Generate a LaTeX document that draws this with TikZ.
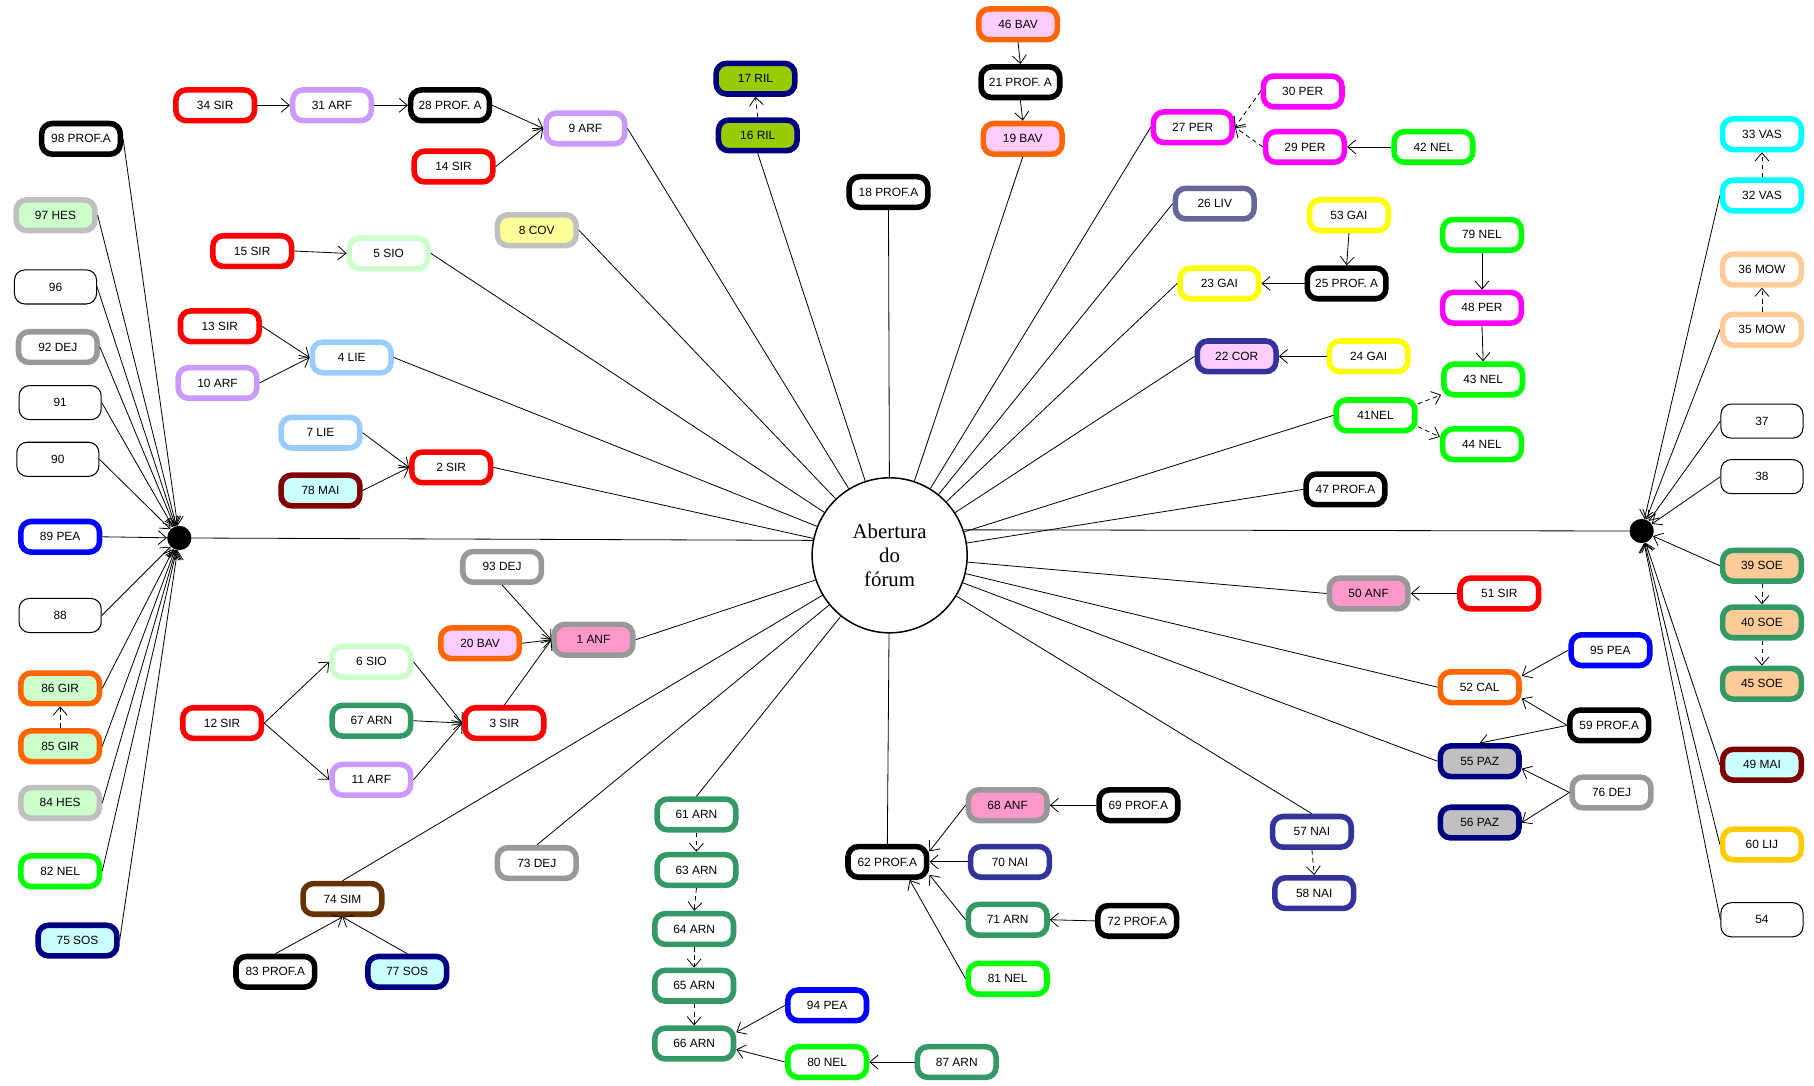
\documentclass[tikz,border=0pt]{standalone}
\usepackage{fontspec}
\setmainfont{Liberation Sans}
\newfontfamily\serifA{Liberation Serif}
\usetikzlibrary{arrows.meta}
\definecolor{cRed}{HTML}{FF0000}
\definecolor{cLav}{HTML}{CC99FF}
\definecolor{cLBlue}{HTML}{99CCFF}
\definecolor{cLGreen}{HTML}{CCFFCC}
\definecolor{cSilver}{HTML}{C0C0C0}
\definecolor{cGray}{HTML}{999999}
\definecolor{cMaroon}{HTML}{800000}
\definecolor{cLCyan}{HTML}{CCFFFF}
\definecolor{cNavy}{HTML}{000080}
\definecolor{cYGreen}{HTML}{99CC00}
\definecolor{cOrange}{HTML}{FF6600}
\definecolor{cPink}{HTML}{FFCCFF}
\definecolor{cMag}{HTML}{FF00FF}
\definecolor{cGreen}{HTML}{00FF00}
\definecolor{cSlate}{HTML}{666699}
\definecolor{cYellow}{HTML}{FFFF00}
\definecolor{cLYellow}{HTML}{FFFF99}
\definecolor{cIndigo}{HTML}{333399}
\definecolor{cRose}{HTML}{FF99CC}
\definecolor{cBlue}{HTML}{0000FF}
\definecolor{cSea}{HTML}{339966}
\definecolor{cBrown}{HTML}{663300}
\definecolor{cCyan}{HTML}{00FFFF}
\definecolor{cPeach}{HTML}{FFCC99}
\definecolor{cGold}{HTML}{FFCC00}
\begin{document}
\begin{tikzpicture}[x=1pt,y=-1pt,
 bx/.style={draw, rounded corners=9pt, line width=4.8pt, minimum width=68pt, minimum height=26.5pt, inner sep=0pt, fill=white, font=\fontsize{10.3}{12}\selectfont},
 pl/.style={draw, rounded corners=9pt, line width=0.9pt, minimum width=71pt, minimum height=29.5pt, inner sep=0pt, fill=white, font=\fontsize{10.3}{12}\selectfont},
 kSIR/.style={bx, draw=cRed},
 kARF/.style={bx, draw=cLav},
 kPROF/.style={bx, draw=black},
 kLIE/.style={bx, draw=cLBlue},
 kSIO/.style={bx, draw=cLGreen},
 kCOV/.style={bx, draw=cSilver, fill=cLYellow},
 kHES/.style={bx, draw=cSilver, fill=cLGreen},
 kDEJ/.style={bx, draw=cGray},
 kMAI/.style={bx, draw=cMaroon, fill=cLCyan},
 kSOS/.style={bx, draw=cNavy, fill=cLCyan},
 kRIL/.style={bx, draw=cNavy, fill=cYGreen},
 kBAV/.style={bx, draw=cOrange, fill=cPink},
 kGIR/.style={bx, draw=cOrange, fill=cLGreen},
 kPER/.style={bx, draw=cMag},
 kNEL/.style={bx, draw=cGreen},
 kLIV/.style={bx, draw=cSlate},
 kGAI/.style={bx, draw=cYellow},
 kCOR/.style={bx, draw=cIndigo, fill=cPink},
 kNAI/.style={bx, draw=cIndigo},
 kANF/.style={bx, draw=cGray, fill=cRose},
 kPEA/.style={bx, draw=cBlue},
 kARN/.style={bx, draw=cSea},
 kSIM/.style={bx, draw=cBrown},
 kVAS/.style={bx, draw=cCyan},
 kMOW/.style={bx, draw=cPeach},
 kSOE/.style={bx, draw=cSea, fill=cPeach},
 kLIJ/.style={bx, draw=cGold},
 kCAL/.style={bx, draw=cOrange},
 kPAZ/.style={bx, draw=cNavy, fill=cSilver},
 hub/.style={circle, fill=black, minimum size=21pt, inner sep=0pt},
 ln/.style={line width=0.7pt},
 ar/.style={ln, -{Straight Barb[length=7pt,width=12pt]}},
 dar/.style={ar, dash pattern=on 4pt off 3pt}
]
\useasboundingbox (0,0) rectangle (1568,938);

% centre
\node[circle, draw, line width=1.3pt, minimum size=134pt, align=center, inner sep=0pt,
  font=\serifA\fontsize{18}{21}\selectfont] (C) at (769,480) {Abertura\\do\\fórum};
\node[hub] (L) at (155,465) {};
\node[hub] (R) at (1419,459) {};

% left column
\node[kPROF] (n98) at (70,120) {98 PROF.A};
\node[kHES] (n97) at (48,186) {97 HES};
\node[pl] (n96) at (48,248) {96};
\node[kDEJ] (n92) at (50,300) {92 DEJ};
\node[pl] (n91) at (52,348) {91};
\node[pl] (n90) at (50,397) {90};
\node[kPEA] (n89) at (52,464) {89 PEA};
\node[pl] (n88) at (52,532) {88};
\node[kGIR] (n86) at (52,595) {86 GIR};
\node[kGIR] (n85) at (52,645) {85 GIR};
\node[kHES] (n84) at (52,694) {84 HES};
\node[kNEL] (n82) at (52,753) {82 NEL};
\node[kSOS] (n75) at (67,813) {75 SOS};

% upper left
\node[kSIR] (n34) at (186,91) {34 SIR};
\node[kARF] (n31) at (287,91) {31 ARF};
\node[kPROF] (n28) at (389,91) {28 PROF. A};
\node[kARF] (n9) at (506,111) {9 ARF};
\node[kSIR] (n14) at (392,144) {14 SIR};
\node[kSIR] (n15) at (218,217) {15 SIR};
\node[kSIO] (n5) at (336,219) {5 SIO};
\node[kCOV] (n8) at (464,199) {8 COV};
\node[kSIR] (n13) at (190,282) {13 SIR};
\node[kLIE] (n4) at (304,309) {4 LIE};
\node[kARF] (n10) at (188,331) {10 ARF};
\node[kLIE] (n7) at (277,374) {7 LIE};
\node[kSIR] (n2) at (390,404) {2 SIR};
\node[kMAI] (n78) at (277,424) {78 MAI};

% top middle
\node[kRIL] (n17) at (653,68) {17 RIL};
\node[kRIL] (n16) at (655,117) {16 RIL};
\node[kPROF] (n18) at (768,166) {18 PROF.A};
\node[kBAV] (n46) at (880,21) {46 BAV};
\node[kPROF] (n21) at (882,71) {21 PROF. A};
\node[kBAV] (n19) at (884,120) {19 BAV};

% upper right
\node[kPER] (n27) at (1031,110) {27 PER};
\node[kPER] (n30) at (1126,79) {30 PER};
\node[kPER] (n29) at (1128,127) {29 PER};
\node[kNEL] (n42) at (1239,127) {42 NEL};
\node[kLIV] (n26) at (1050,176) {26 LIV};
\node[kGAI] (n53) at (1166,186) {53 GAI};
\node[kGAI] (n23) at (1054,245) {23 GAI};
\node[kPROF] (n25) at (1164,245) {25 PROF. A};
\node[kCOR] (n22) at (1069,308) {22 COR};
\node[kGAI] (n24) at (1183,308) {24 GAI};
\node[kNEL] (n79) at (1281,203) {79 NEL};
\node[kPER] (n48) at (1281,266) {48 PER};
\node[kNEL] (n43) at (1282,328) {43 NEL};
\node[kNEL] (n41) at (1189,359) {41NEL};
\node[kNEL] (n44) at (1281,384) {44 NEL};
\node[kPROF] (n47) at (1163,423) {47 PROF.A};

% lower right
\node[kANF] (n50) at (1183,513) {50 ANF};
\node[kSIR] (n51) at (1296,513) {51 SIR};
\node[kPEA] (n95) at (1392,562) {95 PEA};
\node[kCAL] (n52) at (1279,594) {52 CAL};
\node[kPROF] (n59) at (1391,627) {59 PROF.A};
\node[kPAZ] (n55) at (1279,658) {55 PAZ};
\node[kDEJ] (n76) at (1393,685) {76 DEJ};
\node[kPAZ] (n56) at (1279,711) {56 PAZ};
\node[kNAI] (n57) at (1134,719) {57 NAI};
\node[kNAI] (n58) at (1136,772) {58 NAI};

% right column
\node[kVAS] (n33) at (1523,116) {33 VAS};
\node[kVAS] (n32) at (1523,169) {32 VAS};
\node[kMOW] (n36) at (1523,233) {36 MOW};
\node[kMOW] (n35) at (1523,285) {35 MOW};
\node[pl] (n37) at (1523,364) {37};
\node[pl] (n38) at (1523,412) {38};
\node[kSOE] (n39) at (1523,489) {39 SOE};
\node[kSOE] (n40) at (1523,538) {40 SOE};
\node[kSOE] (n45) at (1523,591) {45 SOE};
\node[kMAI] (n49) at (1523,661) {49 MAI};
\node[kLIJ] (n60) at (1523,730) {60 LIJ};
\node[pl] (n54) at (1523,795) {54};

% lower left
\node[kDEJ] (n93) at (434,490) {93 DEJ};
\node[kANF] (n1) at (513,553) {1 ANF};
\node[kBAV] (n20) at (415,556) {20 BAV};
\node[kSIO] (n6) at (321,572) {6 SIO};
\node[kSIR] (n12) at (192,625) {12 SIR};
\node[kARN] (n67) at (321,623) {67 ARN};
\node[kSIR] (n3) at (436,625) {3 SIR};
\node[kARF] (n11) at (321,674) {11 ARF};
\node[kSIM] (n74) at (296,777) {74 SIM};
\node[kPROF] (n83) at (238,840) {83 PROF.A};
\node[kSOS] (n77) at (352,840) {77 SOS};
\node[kDEJ] (n73) at (464,746) {73 DEJ};

% bottom middle
\node[kARN] (n61) at (602,704) {61 ARN};
\node[kARN] (n63) at (602,752) {63 ARN};
\node[kARN] (n64) at (600,803) {64 ARN};
\node[kARN] (n65) at (600,852) {65 ARN};
\node[kARN] (n66) at (600,902) {66 ARN};
\node[kPEA] (n94) at (715,869) {94 PEA};
\node[kNEL] (n80) at (715,918) {80 NEL};
\node[kARN] (n87) at (827,918) {87 ARN};
\node[kPROF] (n62) at (767,745) {62 PROF.A};
\node[kANF] (n68) at (871,696) {68 ANF};
\node[kPROF] (n69) at (984,696) {69 PROF.A};
\node[kNAI] (n70) at (873,745) {70 NAI};
\node[kARN] (n71) at (871,795) {71 ARN};
\node[kPROF] (n72) at (983,796) {72 PROF.A};
\node[kNEL] (n81) at (871,846) {81 NEL};

% ---- connectors ----
\foreach \n in {98,97,96,92,91,90,89,88,86,85,84,82,75} \draw[ar] (n\n.east) -- (L);
\foreach \n in {32,35,37,38,39,49,60,54} \draw[ar] (n\n.west) -- (R);
\draw[ln] (L) -- (C.169);
\draw[ln] (C.19) -- (R);

\foreach \n in {9,5,8,4,2,1} \draw[ln] (n\n.east) -- (C);
\foreach \n in {16,18,19} \draw[ln] (n\n.south) -- (C);
\foreach \n in {27,26,23,22,41,47,50,52,55} \draw[ln] (n\n.west) -- (C);
\foreach \n in {57,74,73,61,62} \draw[ln] (n\n.north) -- (C);

\draw[ar] (n34.east) -- (n31.west);
\draw[ar] (n31.east) -- (n28.west);
\draw[ar] (n28.east) -- (n9.west);
\draw[ar] (n14.east) -- (n9.west);
\draw[ar] (n15.east) -- (n5.west);
\draw[ar] (n13.east) -- (n4.west);
\draw[ar] (n10.east) -- (n4.west);
\draw[ar] (n7.east) -- (n2.west);
\draw[ar] (n78.east) -- (n2.west);
\draw[dar] (n16.north) -- (n17.south);
\draw[ar] (n46.south) -- (n21.north);
\draw[ar] (n21.south) -- (n19.north);
\draw[dar] (n30.west) -- (n27.east);
\draw[dar] (n29.west) -- (n27.east);
\draw[ar] (n42.west) -- (n29.east);
\draw[ar] (n53.south) -- (n25.north);
\draw[ar] (n25.west) -- (n23.east);
\draw[ar] (n24.west) -- (n22.east);
\draw[ar] (n79.south) -- (n48.north);
\draw[ar] (n48.south) -- (n43.north);
\draw[dar] (n41.15) -- (n43.200);
\draw[dar] (n41.-15) -- (n44.170);
\draw[ar] (n51.west) -- (n50.east);
\draw[ar] (n95.west) -- (n52.15);
\draw[ar] (n59.west) -- (n52.-15);
\draw[ar] (n59.west) -- (n55.north);
\draw[ar] (n76.west) -- (n55.-10);
\draw[ar] (n76.west) -- (n56.east);
\draw[dar] (n57.south) -- (n58.north);
\draw[dar] (n32.north) -- (n33.south);
\draw[dar] (n35.north) -- (n36.south);
\draw[dar] (n39.south) -- (n40.north);
\draw[dar] (n40.south) -- (n45.north);
\draw[dar] (n85.north) -- (n86.south);
\draw[ar] (n93.south) -- (n1.west);
\draw[ar] (n20.east) -- (n1.west);
\draw[ar] (n3.north) -- (n1.west);
\draw[ar] (n12.east) -- (n6.west);
\draw[ar] (n12.east) -- (n11.west);
\draw[ar] (n6.east) -- (n3.west);
\draw[ar] (n67.east) -- (n3.west);
\draw[ar] (n11.east) -- (n3.west);
\draw[ar] (n83.north) -- (n74.south);
\draw[ar] (n77.north) -- (n74.south);
\draw[dar] (n61.south) -- (n63.north);
\draw[dar] (n63.south) -- (n64.north);
\draw[dar] (n64.south) -- (n65.north);
\draw[dar] (n65.south) -- (n66.north);
\draw[ar] (n94.west) -- (n66.15);
\draw[ar] (n80.west) -- (n66.-8);
\draw[ar] (n87.west) -- (n80.east);
\draw[ar] (n68.west) -- (n62.14);
\draw[ar] (n70.west) -- (n62.east);
\draw[ar] (n71.west) -- (n62.-17);
\draw[ar] (n81.west) -- (n62.-39);
\draw[ar] (n69.west) -- (n68.east);
\draw[ar] (n72.west) -- (n71.east);
\end{tikzpicture}
\end{document}
